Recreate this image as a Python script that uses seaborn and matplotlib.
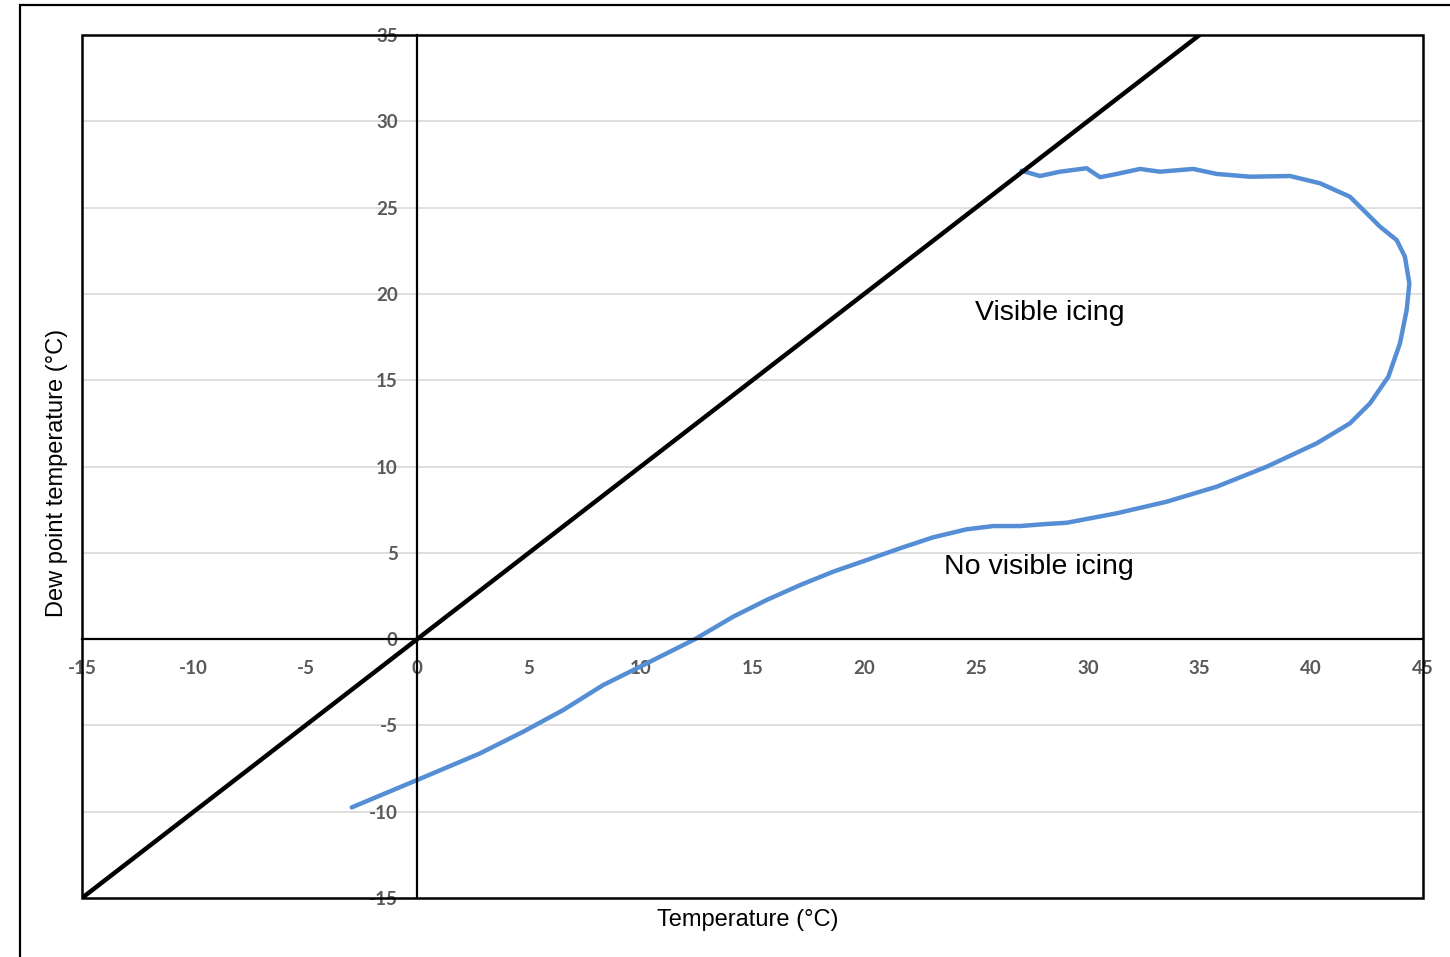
import numpy as np
import pandas as pd
import matplotlib
matplotlib.use("Agg")
import matplotlib.pyplot as plt
from matplotlib.patches import Rectangle
import seaborn as sns

# data
temp = [-2.93, 0.0, 2.81, 4.75, 6.53, 8.32, 9.97, 12.43, 14.14, 15.64, 17.13, 18.62,
        20.11, 21.60, 23.09, 24.58, 25.77, 26.97, 28.16, 29.06, 31.30, 33.53, 35.77,
        38.01, 40.24, 41.73, 42.63, 43.45, 43.97, 44.27, 44.39, 44.19, 43.82, 43.08,
        42.33, 41.73, 40.39, 39.05, 37.26, 35.77, 34.72, 33.23, 32.34, 31.30, 30.55,
        30.25, 29.95, 28.76, 27.86, 27.04]
dew = [-9.75, -8.16, -6.62, -5.36, -4.11, -2.66, -1.60, 0.0, 1.30, 2.27, 3.13, 3.91,
       4.58, 5.26, 5.90, 6.36, 6.55, 6.55, 6.67, 6.74, 7.29, 7.96, 8.83, 9.99, 11.34,
       12.50, 13.66, 15.20, 17.14, 19.07, 20.61, 22.16, 23.12, 23.89, 24.86, 25.63,
       26.41, 26.83, 26.79, 26.95, 27.24, 27.08, 27.24, 26.95, 26.76, 27.02, 27.28,
       27.08, 26.83, 27.14]
sat_x = [-15, 35]
sat_y = [-15, 35]
x_ticks = list(range(-15, 50, 5))
y_ticks = list(range(-15, 40, 5))
labels = ["Visible icing", "No visible icing"]
label_x = [28.3, 27.8]
label_y = [18.9, 4.15]

sns.set_theme(style="white")
plt.rcParams['font.family'] = ['Liberation Sans', 'DejaVu Sans']
plt.rcParams['axes.unicode_minus'] = False

fig = plt.figure(figsize=(14.5, 9.57), dpi=100)
ax = fig.add_axes([82/1450, 1 - 898/957, (1423-82)/1450, (898-35)/957])

curve = pd.DataFrame({"t": temp, "td": dew})
sns.lineplot(data=curve, x="t", y="td", sort=False, estimator=None, color="#558ED5",
             lw=3.2, ax=ax, solid_capstyle="round", solid_joinstyle="round")
sns.lineplot(x=sat_x, y=sat_y, color="black", lw=3.2, ax=ax)

ax.set_xlim(-15, 45)
ax.set_ylim(-15, 35)
ax.set_xticks(x_ticks)
ax.set_yticks(y_ticks)

# gridlines
for yv in y_ticks[1:-1]:
    if yv != 0:
        ax.axhline(yv, color="#d9d9d9", lw=1.2, zorder=0)

# axes through zero
ax.spines['left'].set_position(('data', 0))
ax.spines['bottom'].set_position(('data', 0))
for s in ['left', 'bottom']:
    ax.spines[s].set_linewidth(1.6)
    ax.spines[s].set_color("black")
ax.spines['top'].set_visible(False)
ax.spines['right'].set_visible(False)
ax.add_patch(Rectangle((0, 0), 1, 1, transform=ax.transAxes, fill=False,
                       lw=1.8, ec="black", clip_on=False, zorder=5))

ax.tick_params(axis='both', length=0)
ax.tick_params(axis='y', pad=14)
ax.tick_params(axis='x', pad=15)
for t in ax.get_xticklabels() + ax.get_yticklabels():
    t.set_fontfamily(['Lato', 'DejaVu Sans'])
    t.set_fontweight('bold')
    t.set_fontsize(13.5)
    t.set_color("#595959")

ax.set_xlabel("")
ax.set_ylabel("")
fig.text((82+1423)/2/1450 - 0.003, 1 - 920/957, "Temperature (°C)", ha="center",
         va="center", fontsize=17, color="black")
fig.text(57/1450, 1 - 473/957, "Dew point temperature (°C)", ha="center",
         va="center", rotation=90, fontsize=17, color="black")

for lab, lx, ly in zip(labels, label_x, label_y):
    ax.text(lx, ly, lab, ha="center", va="center", fontsize=20.5, color="black")

# outer frame
fig.patches.append(Rectangle((20/1450, -0.5), 2, 0.5 + 1 - 5/957, transform=fig.transFigure,
                             fill=False, lw=1.6, ec="black"))

fig.savefig("out.png", dpi=100)
